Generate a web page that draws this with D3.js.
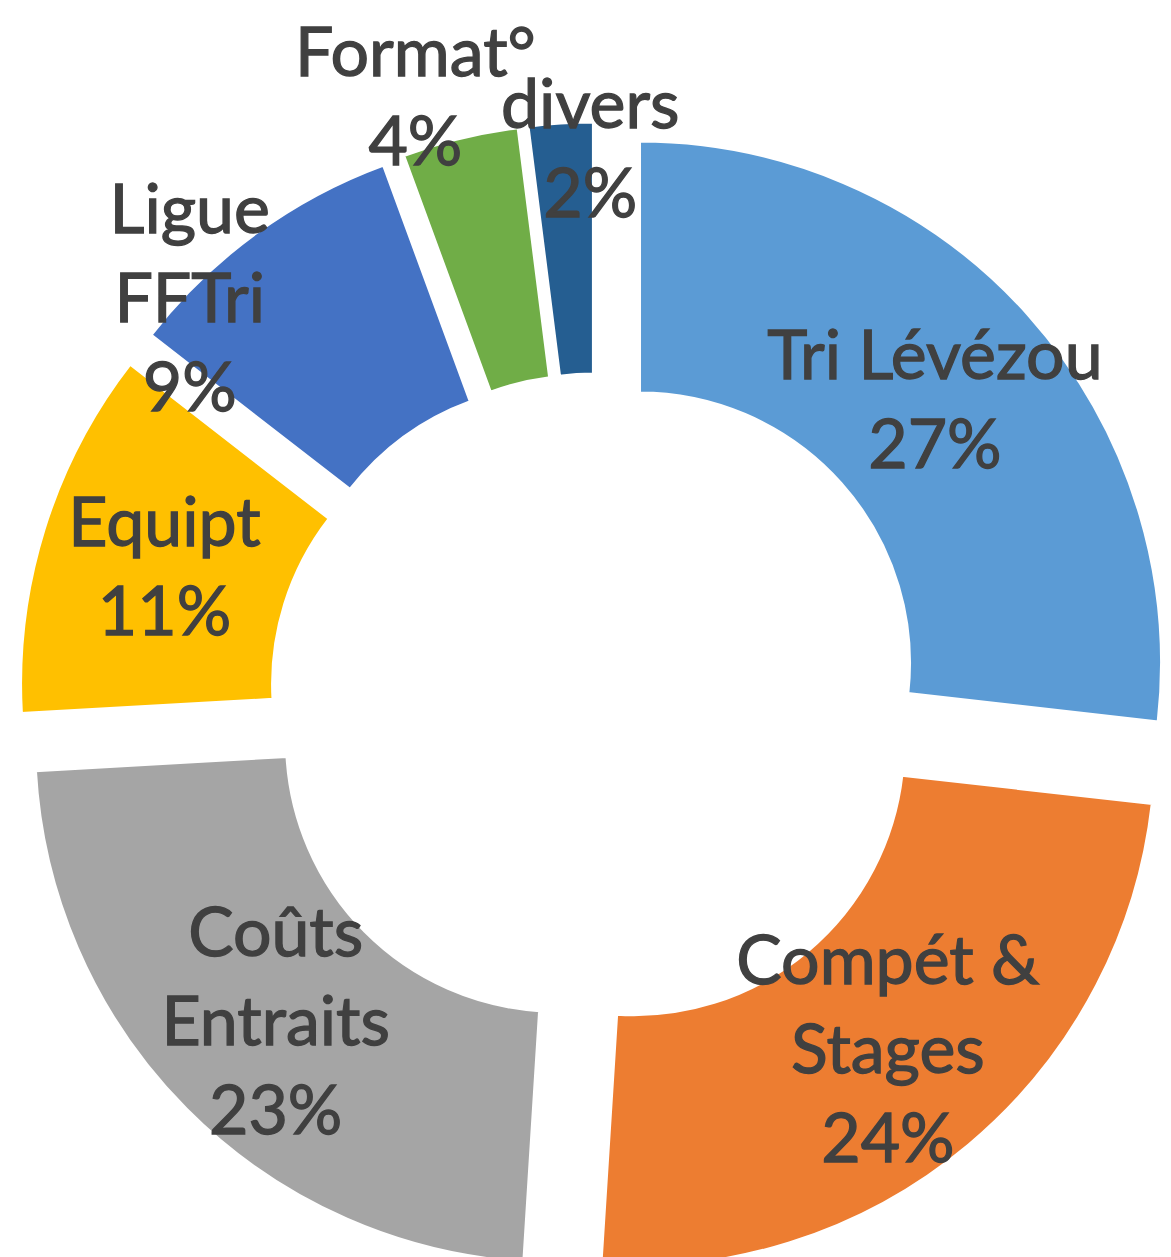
<!DOCTYPE html>
<html>
<head>
<meta charset="utf-8">
<script src="https://cdn.jsdelivr.net/npm/d3@7"></script>
<style>
  html, body { margin: 0; padding: 0; background: #fff; }
  svg { display: block; }
  .lbl { font-family: Lato, "Open Sans", sans-serif; fill: #404040; stroke: #404040; stroke-width: 1.3px; }
</style>
</head>
<body>
<div class="donut-container"></div>
<script>
// Data
const categories = ['Tri Lévézou', 'Compét & Stages', 'Coûts Entraits', 'Equipt', 'Ligue FFTri', 'Format°', 'divers'];
const values = [26.8, 24.2, 23.1, 11.4, 8.9, 3.6, 2.0];
const labelLines = [['Tri Lévézou'], ['Compét &', 'Stages'], ['Coûts', 'Entraits'], ['Equipt'], ['Ligue', 'FFTri'], ['Format°'], ['divers']];
const colors = ['#5B9BD5', '#ED7D31', '#A5A5A5', '#FFC000', '#4472C4', '#70AD47', '#255E91'];

// Layout
const svg_width = 1171;
const svg_height = 1257;
const cx = 597, cy = 701;
const outerR = 522, innerR = 270;
const explode = 57;
const fontSize = 68;
const lineH = 89;
// labels Excel pushed outside the ring: [angle deg, radius] from chart centre
const labelMoved = {'Ligue FFTri': [314.7, 573], 'Format°': [343.3, 632], 'divers': [359.3, 553]};

const total = d3.sum(values);
const pctFmt = d3.format('.0%');
const rows = categories.map((c, i) => ({name: c, value: values[i], lines: labelLines[i], color: colors[i]}));

const pie = d3.pie().value(d => d.value).sort(null);
const arc = d3.arc().innerRadius(innerR).outerRadius(outerR);
const arcs = pie(rows);

const svg = d3.select('.donut-container').append('svg')
  .attr('width', svg_width).attr('height', svg_height);
const g = svg.append('g').attr('transform', `translate(${cx},${cy})`);

const polar = (a, r) => [Math.sin(a) * r, -Math.cos(a) * r];

const slices = g.selectAll('.slice').data(arcs).enter()
  .append('g').attr('class', 'slice')
  .attr('transform', d => {
    const [dx, dy] = polar((d.startAngle + d.endAngle) / 2, explode);
    return `translate(${dx},${dy})`;
  });

slices.append('path')
  .attr('d', arc)
  .style('fill', d => d.data.color)
  .style('stroke', '#fff')
  .style('stroke-width', 3);

const labels = g.selectAll('.lbl').data(arcs).enter()
  .append('text').attr('class', 'lbl')
  .attr('text-anchor', 'middle')
  .style('font-size', fontSize + 'px')
  .each(function(d) {
    const mid = (d.startAngle + d.endAngle) / 2;
    let x, y;
    const moved = labelMoved[d.data.name];
    if (moved) {
      [x, y] = polar(moved[0] * Math.PI / 180, moved[1]);
    } else {
      const [ex, ey] = polar(mid, explode);
      const [lx, ly] = polar(mid, (innerR + outerR) / 2);
      x = ex + lx; y = ey + ly;
    }
    const lines = d.data.lines.concat([pctFmt(d.data.value / total)]);
    const n = lines.length;
    const t = d3.select(this);
    lines.forEach((s, i) => {
      t.append('tspan')
        .attr('x', x)
        .attr('y', y + (i - (n - 1) / 2) * lineH + fontSize * 0.36)
        .text(s);
    });
  });
</script>
</body>
</html>
